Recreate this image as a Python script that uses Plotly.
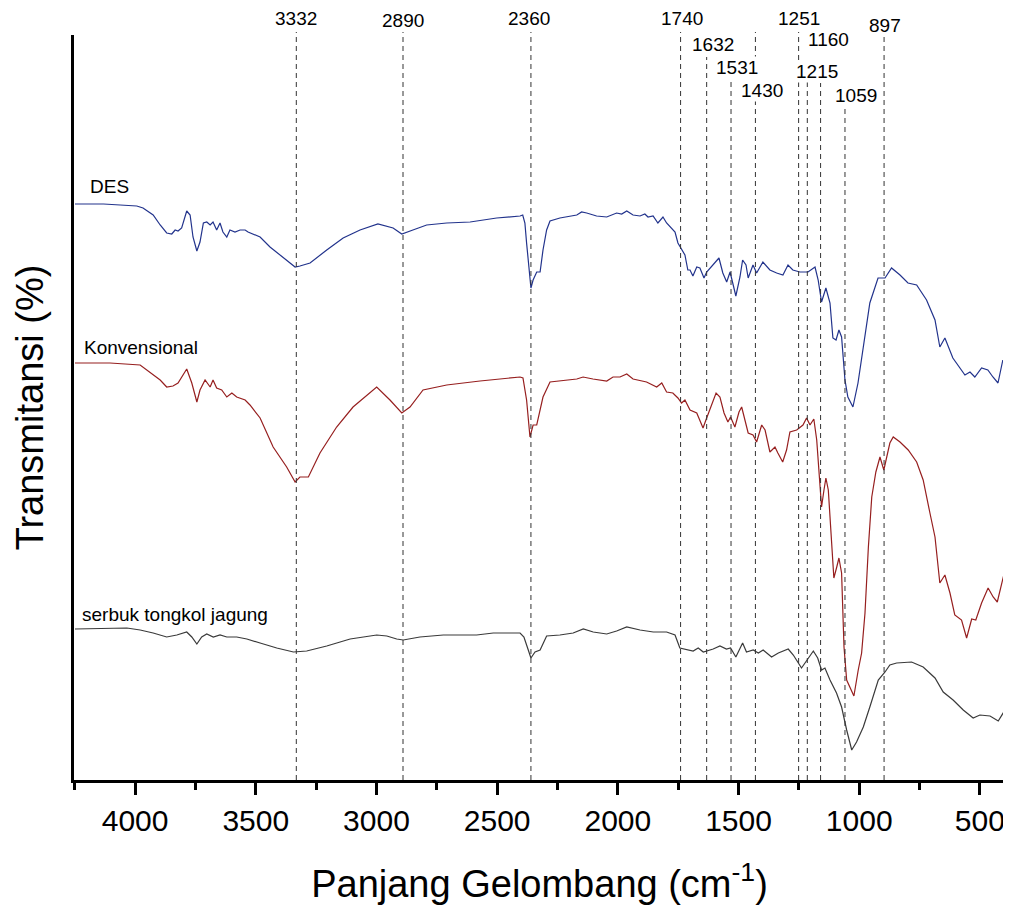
import plotly.graph_objects as go

# ---------------- data ----------------
des_wn = [4249, 4131, 3993, 3967, 3925, 3896, 3869, 3848, 3834, 3822, 3807, 3786, 3772, 3760, 3744, 3731,
          3717, 3703, 3689, 3677, 3662, 3648, 3636, 3620, 3607, 3586, 3565, 3544, 3532, 3482, 3441, 3387,
          3337, 3317, 3275, 3206, 3138, 3068, 2994, 2931, 2895, 2849, 2792, 2709, 2612, 2502, 2405, 2394,
          2385, 2378, 2368, 2360, 2351, 2336, 2322, 2310, 2295, 2281, 2240, 2170, 2150, 2129, 2088, 2046,
          2005, 1984, 1963, 1937, 1908, 1888, 1875, 1854, 1834, 1813, 1798, 1777, 1763, 1751, 1736, 1722,
          1710, 1701, 1689, 1673, 1660, 1643, 1632, 1606, 1581, 1565, 1549, 1535, 1523, 1511, 1494, 1483,
          1469, 1460, 1440, 1425, 1399, 1370, 1342, 1316, 1295, 1275, 1246, 1212, 1183, 1170, 1156, 1138,
          1121, 1109, 1096, 1084, 1073, 1059, 1047, 1026, 1005, 985, 956, 922, 893, 866, 831, 798, 762, 721,
          686, 666, 645, 612, 562, 541, 521, 493, 467, 446, 425, 405]
des_t = [576, 576, 574, 572, 565, 555, 547, 546, 550, 549, 552, 569, 565, 543, 529, 538,
         557, 558, 555, 558, 550, 557, 548, 543, 550, 548, 550, 550, 548, 543, 533, 523,
         513, 514, 517, 530, 542, 550, 556, 552, 546, 550, 555, 557, 558, 562, 564, 565,
         557, 537, 507, 492, 500, 508, 508, 530, 550, 559, 562, 565, 568, 567, 564, 563,
         567, 566, 569, 565, 564, 566, 563, 564, 557, 563, 557, 552, 548, 537, 530, 525,
         510, 510, 504, 513, 512, 502, 508, 515, 522, 507, 498, 508, 497, 484, 503, 520,
         515, 502, 515, 507, 518, 510, 507, 505, 515, 510, 508, 508, 513, 500, 478, 492,
         477, 442, 440, 450, 443, 400, 383, 373, 397, 430, 477, 502, 502, 512, 505, 497, 495, 480,
         460, 433, 442, 422, 405, 408, 403, 412, 410, 403, 397, 420]

konv_wn = [4249, 4104, 3979, 3938, 3896, 3869, 3843, 3822, 3807, 3786, 3765, 3744, 3731, 3710, 3689, 3677,
           3662, 3641, 3620, 3599, 3579, 3544, 3524, 3482, 3428, 3372, 3337, 3317, 3282, 3234, 3165, 3097,
           2999, 2944, 2895, 2861, 2807, 2709, 2571, 2405, 2393, 2378, 2364, 2351, 2336, 2310, 2281, 2170,
           2144, 2103, 2046, 2020, 1991, 1963, 1937, 1881, 1839, 1818, 1798, 1772, 1751, 1736, 1722, 1701,
           1673, 1647, 1632, 1611, 1593, 1577, 1560, 1544, 1533, 1515, 1498, 1487, 1473, 1460, 1440, 1425,
           1404, 1390, 1370, 1349, 1337, 1317, 1301, 1287, 1259, 1233, 1218, 1204, 1188, 1176, 1165, 1156,
           1146, 1138, 1128, 1114, 1105, 1093, 1084, 1073, 1063, 1052, 1038, 1022, 1004, 990, 976, 962,
           948, 931, 914, 898, 873, 859, 831, 797, 762, 735, 707, 686, 666, 645, 624, 604, 576, 555,
           534, 517, 493, 466, 445, 428, 396]
konv_t = [417, 417, 415, 408, 400, 393, 394, 397, 403, 411, 397, 378, 390, 400, 393, 400,
          392, 390, 383, 387, 383, 380, 375, 362, 333, 313, 298, 303, 303, 327, 353, 373,
          393, 380, 367, 373, 390, 395, 399, 403, 402, 380, 343, 355, 355, 383, 398, 401,
          403, 401, 399, 403, 403, 406, 401, 398, 393, 397, 388, 387, 382, 377, 380, 370,
          367, 352, 362, 375, 387, 383, 367, 358, 363, 353, 368, 373, 360, 347, 345, 338,
          355, 350, 328, 333, 327, 318, 330, 348, 350, 355, 362, 355, 361, 340, 303, 273,
          290, 302, 290, 240, 202, 213, 222, 207, 133, 100, 93, 84, 110, 127, 167, 233,
          283, 308, 323, 310, 337, 343, 338, 330, 318, 300, 267, 243, 197, 205, 187, 165, 160, 142,
          161, 160, 177, 192, 183, 178, 210]

serbuk_wn = [4249, 4034, 3979, 3925, 3869, 3827, 3786, 3765, 3744, 3724, 3703, 3676, 3648, 3620, 3579, 3537,
             3482, 3413, 3344, 3289, 3206, 3109, 2999, 2957, 2916, 2889, 2820, 2723, 2585, 2516, 2405, 2389,
             2371, 2360, 2343, 2322, 2295, 2240, 2185, 2143, 2102, 2046, 2005, 1963, 1908, 1853, 1798, 1763,
             1743, 1688, 1667, 1646, 1605, 1577, 1550, 1533, 1511, 1483, 1467, 1439, 1418, 1398, 1363, 1335,
             1294, 1273, 1239, 1211, 1190, 1172, 1156, 1142, 1121, 1094, 1073, 1052, 1031, 1011, 983, 956,
             921, 893, 873, 845, 783, 735, 686, 652, 611, 569, 528, 500, 458, 424, 396]
serbuk_t = [151, 152, 150, 147, 143, 145, 148, 143, 136, 143, 146, 143, 145, 143, 143, 141,
            137, 132, 128, 129, 134, 141, 145, 144, 141, 140, 143, 145, 145, 147, 147, 143,
            130, 122, 128, 130, 144, 145, 147, 151, 148, 146, 149, 153, 150, 148, 148, 145,
            132, 129, 132, 128, 131, 134, 131, 132, 123, 137, 128, 130, 127, 130, 123, 127,
            131, 125, 112, 122, 129, 122, 110, 112, 100, 87, 73, 50, 30, 38, 53, 73,
            100, 108, 115, 117, 118, 113, 102, 88, 80, 70, 62, 65, 64, 59, 70]

series_names = ["DES", "Konvensional", "serbuk tongkol jagung"]
peaks = [3332, 2890, 2360, 1740, 1632, 1531, 1430, 1251, 1215, 1160, 1059, 897]
peak_labels = ["3332", "2890", "2360", "1740", "1632", "1531", "1430", "1251", "1215", "1160", "1059", "897"]
x_ticks = [4000, 3500, 3000, 2500, 2000, 1500, 1000, 500]

# ---------------- layout geometry ----------------
# the page body adds an 8px margin, so the figure is drawn 8px smaller and shifted
OFF = 8
W, H = 1011 - OFF, 905 - OFF
PLOT_L, PLOT_R, PLOT_T, PLOT_B = 74, 1005, 35, 780   # page pixels of the plot area
ML, MR, MT, MB = PLOT_L - OFF, 1011 - PLOT_R, PLOT_T - OFF, 905 - PLOT_B
PH = PLOT_B - PLOT_T
PW = PLOT_R - PLOT_L


def py2paper(py):
    return (PLOT_B - py) / PH


def px2paper(px):
    return (px - PLOT_L) / PW


FONT = "Arial, Liberation Sans, sans-serif"

fig = go.Figure()
colors = ["#22338c", "#961f1f", "#3a3a3a"]
for name, xs, ys, c in zip(series_names, [des_wn, konv_wn, serbuk_wn], [des_t, konv_t, serbuk_t], colors):
    fig.add_trace(go.Scatter(x=xs, y=ys, mode="lines", name=name,
                             line=dict(color=c, width=1.2), showlegend=False))

# dashed marker lines: top pixel of each line, label centre (px offset, y px)
line_tops = [32, 32, 32, 32, 57, 78, 32, 32, 80, 83, 107, 32]
label_dx = [0, 0, -2, 1, 6, 6, 7, 0, 10, 8, 11, 1]
label_y = [19, 21, 19, 19, 44, 67, 91, 19, 71, 40, 96, 25]

for wn, lab, top, dx, ly in zip(peaks, peak_labels, line_tops, label_dx, label_y):
    fig.add_shape(type="line", xref="x", yref="paper", x0=wn, x1=wn,
                  y0=0, y1=py2paper(top),
                  line=dict(color="#333333", width=1, dash="5px,4px"), layer="above")
    fig.add_annotation(x=wn, xref="x", y=py2paper(ly), yref="paper", text=lab,
                       showarrow=False, xshift=dx, xanchor="center", yanchor="middle",
                       font=dict(family=FONT, size=19, color="black"),
                       bgcolor="white", borderpad=0)

# series name labels
name_pos = [(88, 186), (82, 347), (80, 614)]
for name, (lx, ly) in zip(series_names, name_pos):
    fig.add_annotation(x=px2paper(lx), xref="paper", y=py2paper(ly), yref="paper", text=name,
                       showarrow=False, xanchor="left", yanchor="middle",
                       font=dict(family=FONT, size=19, color="black"))

fig.update_layout(
    width=W, height=H,
    margin=dict(l=ML, r=MR, t=MT, b=MB),
    plot_bgcolor="white", paper_bgcolor="white",
    font=dict(family=FONT, color="black"),
    xaxis=dict(
        range=[4253, 396], showgrid=False, zeroline=False,
        showline=True, linecolor="black", linewidth=2.5,
        ticks="outside", ticklen=12, tickwidth=2.5, tickcolor="black",
        tickvals=x_ticks, ticktext=[str(v) for v in x_ticks],
        tickfont=dict(family=FONT, size=30, color="black"),
        minor=dict(dtick=250, tick0=0, ticks="outside", ticklen=7, tickwidth=2.5, tickcolor="black"),
        title=dict(text="Panjang Gelombang (cm<sup>-1</sup>)", standoff=35,
                   font=dict(family=FONT, size=38, color="black")),
        automargin=False,
    ),
    yaxis=dict(
        range=[0, 745], showgrid=False, zeroline=False,
        showline=True, linecolor="black", linewidth=2.5,
        ticks="", showticklabels=False,
        title=dict(text="Transmitansi (%)", standoff=16,
                   font=dict(family=FONT, size=38, color="black")),
        automargin=False,
    ),
)

fig.write_html("out.html")
